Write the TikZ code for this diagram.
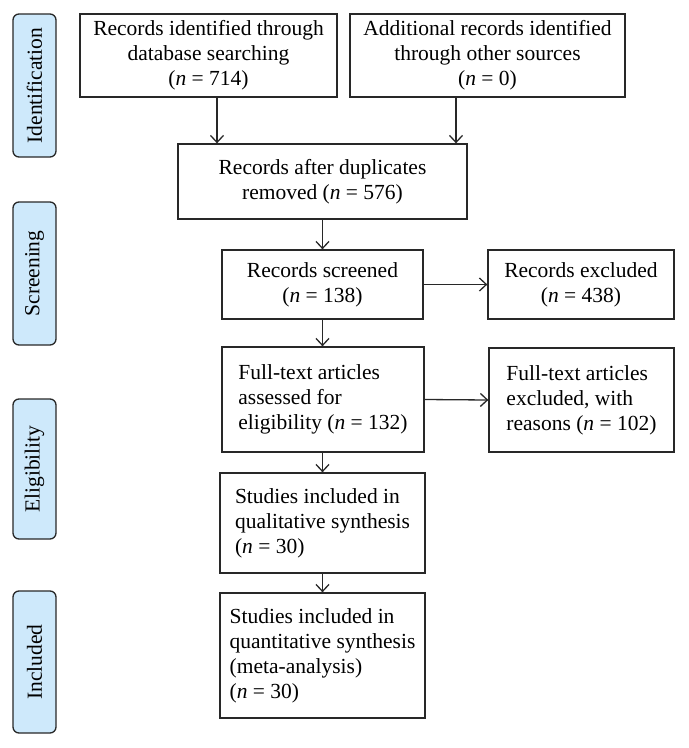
\documentclass[tikz,border=0pt]{standalone}
\usepackage{fontspec}
\setmainfont{Liberation Serif}
\usetikzlibrary{arrows.meta}
\definecolor{phase}{RGB}{206,233,251}
\definecolor{edge}{RGB}{40,40,40}
\begin{document}
\begin{tikzpicture}[x=1pt,y=-1pt,
  every node/.style={font=\fontsize{21.5}{25}\selectfont},
  box/.style={draw=edge, line width=1.3pt, inner sep=0pt, align=center},
  lbox/.style={draw=edge, line width=1.3pt, inner sep=0pt, align=left},
  phasebox/.style={draw=edge, line width=1.3pt, fill=phase, rounded corners=6pt, minimum height=43pt, rotate=90, inner sep=0pt},
  arr/.style={draw=edge, line width=1.3pt, -{Straight Barb[length=7pt,width=13pt,line width=1.3pt]}}]
\useasboundingbox (0,0) rectangle (689,748);
% phase labels
\node[phasebox, minimum width=143pt] (p1) at (34.5,85.5) {Identification};
\node[phasebox, minimum width=143pt] (p2) at (34.5,273.5) {Screening};
\node[phasebox, minimum width=140pt] (p3) at (34.5,469) {Eligibility};
\node[phasebox, minimum width=142pt] (p4) at (34.5,662) {Included};
% boxes
\node[box, minimum width=257pt, minimum height=83pt] (A) at (208.5,55.5)
  {Records identified through\\database searching\\(\textit{n} = 714)};
\node[box, minimum width=275pt, minimum height=83pt] (B) at (487.5,55.5)
  {Additional records identified\\through other sources\\(\textit{n} = 0)};
\node[box, minimum width=289pt, minimum height=75pt] (C) at (322.5,181.5)
  {Records after duplicates\\removed (\textit{n} = 576)};
\node[box, minimum width=201pt, minimum height=69pt] (D) at (322.5,284.5)
  {Records screened\\(\textit{n} = 138)};
\node[box, minimum width=186pt, minimum height=69pt] (E) at (581,284.5)
  {Records excluded\\(\textit{n} = 438)};
\node[lbox, minimum width=202pt, minimum height=105pt] (F) at (323,399.5)
  {Full-text articles\\assessed for\\eligibility (\textit{n} = 132)};
\node[lbox, minimum width=185pt, minimum height=104pt] (G) at (581.5,400)
  {Full-text articles\\excluded, with\\reasons (\textit{n} = 102)};
\node[lbox, minimum width=205pt, minimum height=100pt] (H) at (322.5,523)
  {Studies included in\\qualitative synthesis\\(\textit{n} = 30)};
\node[lbox, minimum width=205pt, minimum height=125pt] (I) at (322.5,655.5)
  {Studies included in\\quantitative synthesis\\(meta-analysis)\\(\textit{n} = 30)};
% arrows
\coordinate (ax) at (217,0);
\coordinate (bx) at (456,0);
\coordinate (cx) at (322.5,0);
\draw[arr] (A.south -| ax) -- (C.north -| ax);
\draw[arr] (B.south -| bx) -- (C.north -| bx);
\draw[arr] (C.south -| cx) -- (D.north -| cx);
\draw[arr] (D.east) -- (E.west);
\draw[arr] (D.south -| cx) -- (F.north -| cx);
\draw[arr] (F.east) -- (G.west);
\draw[arr] (F.south -| cx) -- (H.north -| cx);
\draw[arr] (H.south -| cx) -- (I.north -| cx);
\end{tikzpicture}
\end{document}
